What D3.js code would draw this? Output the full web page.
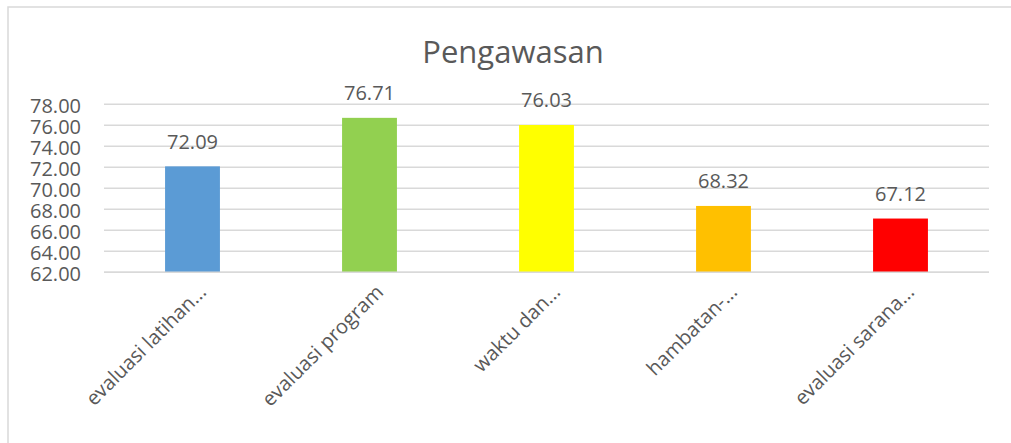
<!DOCTYPE html>
<html>
<head>
<meta charset="utf-8">
<script src="https://cdn.jsdelivr.net/npm/d3@7"></script>
<style>
  html, body { margin: 0; padding: 0; background: #fff; }
  svg { display: block; font-family: "Open Sans", "Noto Sans", sans-serif; }
</style>
</head>
<body>
<svg id="chart" width="1011" height="443"></svg>
<script>
const title = "Pengawasan";
const categories = ["evaluasi latihan...", "evaluasi program", "waktu dan...", "hambatan-...", "evaluasi sarana..."];
const values = [72.09, 76.71, 76.03, 68.32, 67.12];
const colors = ["#5B9BD5", "#92D050", "#FFFF00", "#FFC000", "#FF0000"];
const yTicks = [62, 64, 66, 68, 70, 72, 74, 76, 78];

(function () {
const svg = d3.select("#chart");
const plotLeft = 104, plotRight = 989, plotTop = 104.3, plotBottom = 272.3;
const textColor = "#595959";
const gridColor = "#d9d9d9";

svg.append("rect").attr("x", 8).attr("y", 7).attr("width", 1020).attr("height", 460)
  .attr("fill", "#fff").attr("stroke", gridColor).attr("stroke-width", 1.5);

const x = d3.scaleBand().domain(categories).range([plotLeft, plotRight])
  .paddingInner(0.69).paddingOuter(0.345);
const y = d3.scaleLinear().domain([62, 78]).range([plotBottom, plotTop]);

// gridlines
svg.append("g").selectAll("line").data(yTicks).join("line")
  .attr("x1", plotLeft).attr("x2", plotRight)
  .attr("y1", d => y(d)).attr("y2", d => y(d))
  .attr("stroke", gridColor).attr("stroke-width", 1.5);

// y axis labels
const yAxis = d3.axisLeft(y).tickValues(yTicks).tickFormat(d3.format(".2f")).tickSize(0).tickPadding(0);
const gy = svg.append("g").attr("transform", `translate(81,0)`).call(yAxis);
gy.select(".domain").remove();
gy.selectAll("text").attr("fill", textColor).attr("font-size", 20)
  .attr("font-family", "'Open Sans', sans-serif").attr("dy", "0.42em");

// bars
svg.append("g").selectAll("rect").data(values).join("rect")
  .attr("x", (d, i) => x(categories[i]))
  .attr("width", x.bandwidth())
  .attr("y", d => y(d))
  .attr("height", d => y(62) - y(d))
  .attr("fill", (d, i) => colors[i]);

// x axis line
svg.append("line").attr("x1", plotLeft).attr("x2", plotRight)
  .attr("y1", plotBottom).attr("y2", plotBottom)
  .attr("stroke", gridColor).attr("stroke-width", 1.5);

// data labels
svg.append("g").selectAll("text").data(values).join("text")
  .attr("x", (d, i) => x(categories[i]) + x.bandwidth() / 2)
  .attr("y", d => y(d) - 17.5)
  .attr("text-anchor", "middle")
  .attr("fill", textColor).attr("font-size", 20)
  .text(d => d3.format(".2f")(d));

// category labels
const xAxis = d3.axisBottom(x).tickSize(0).tickPadding(0);
const gx = svg.append("g").attr("transform", `translate(0,${plotBottom})`).call(xAxis);
gx.select(".domain").remove();
gx.selectAll("text")
  .attr("fill", textColor).attr("font-size", 20)
  .attr("font-family", "'Open Sans', sans-serif")
  .attr("text-anchor", "end")
  .attr("y", 0).attr("dy", 0)
  .attr("transform", "translate(15,21) rotate(-45)");

// title
svg.append("text").attr("x", 513).attr("y", 63)
  .attr("text-anchor", "middle").attr("fill", textColor)
  .attr("font-size", 31).text(title);
})();
</script>
</body>
</html>
